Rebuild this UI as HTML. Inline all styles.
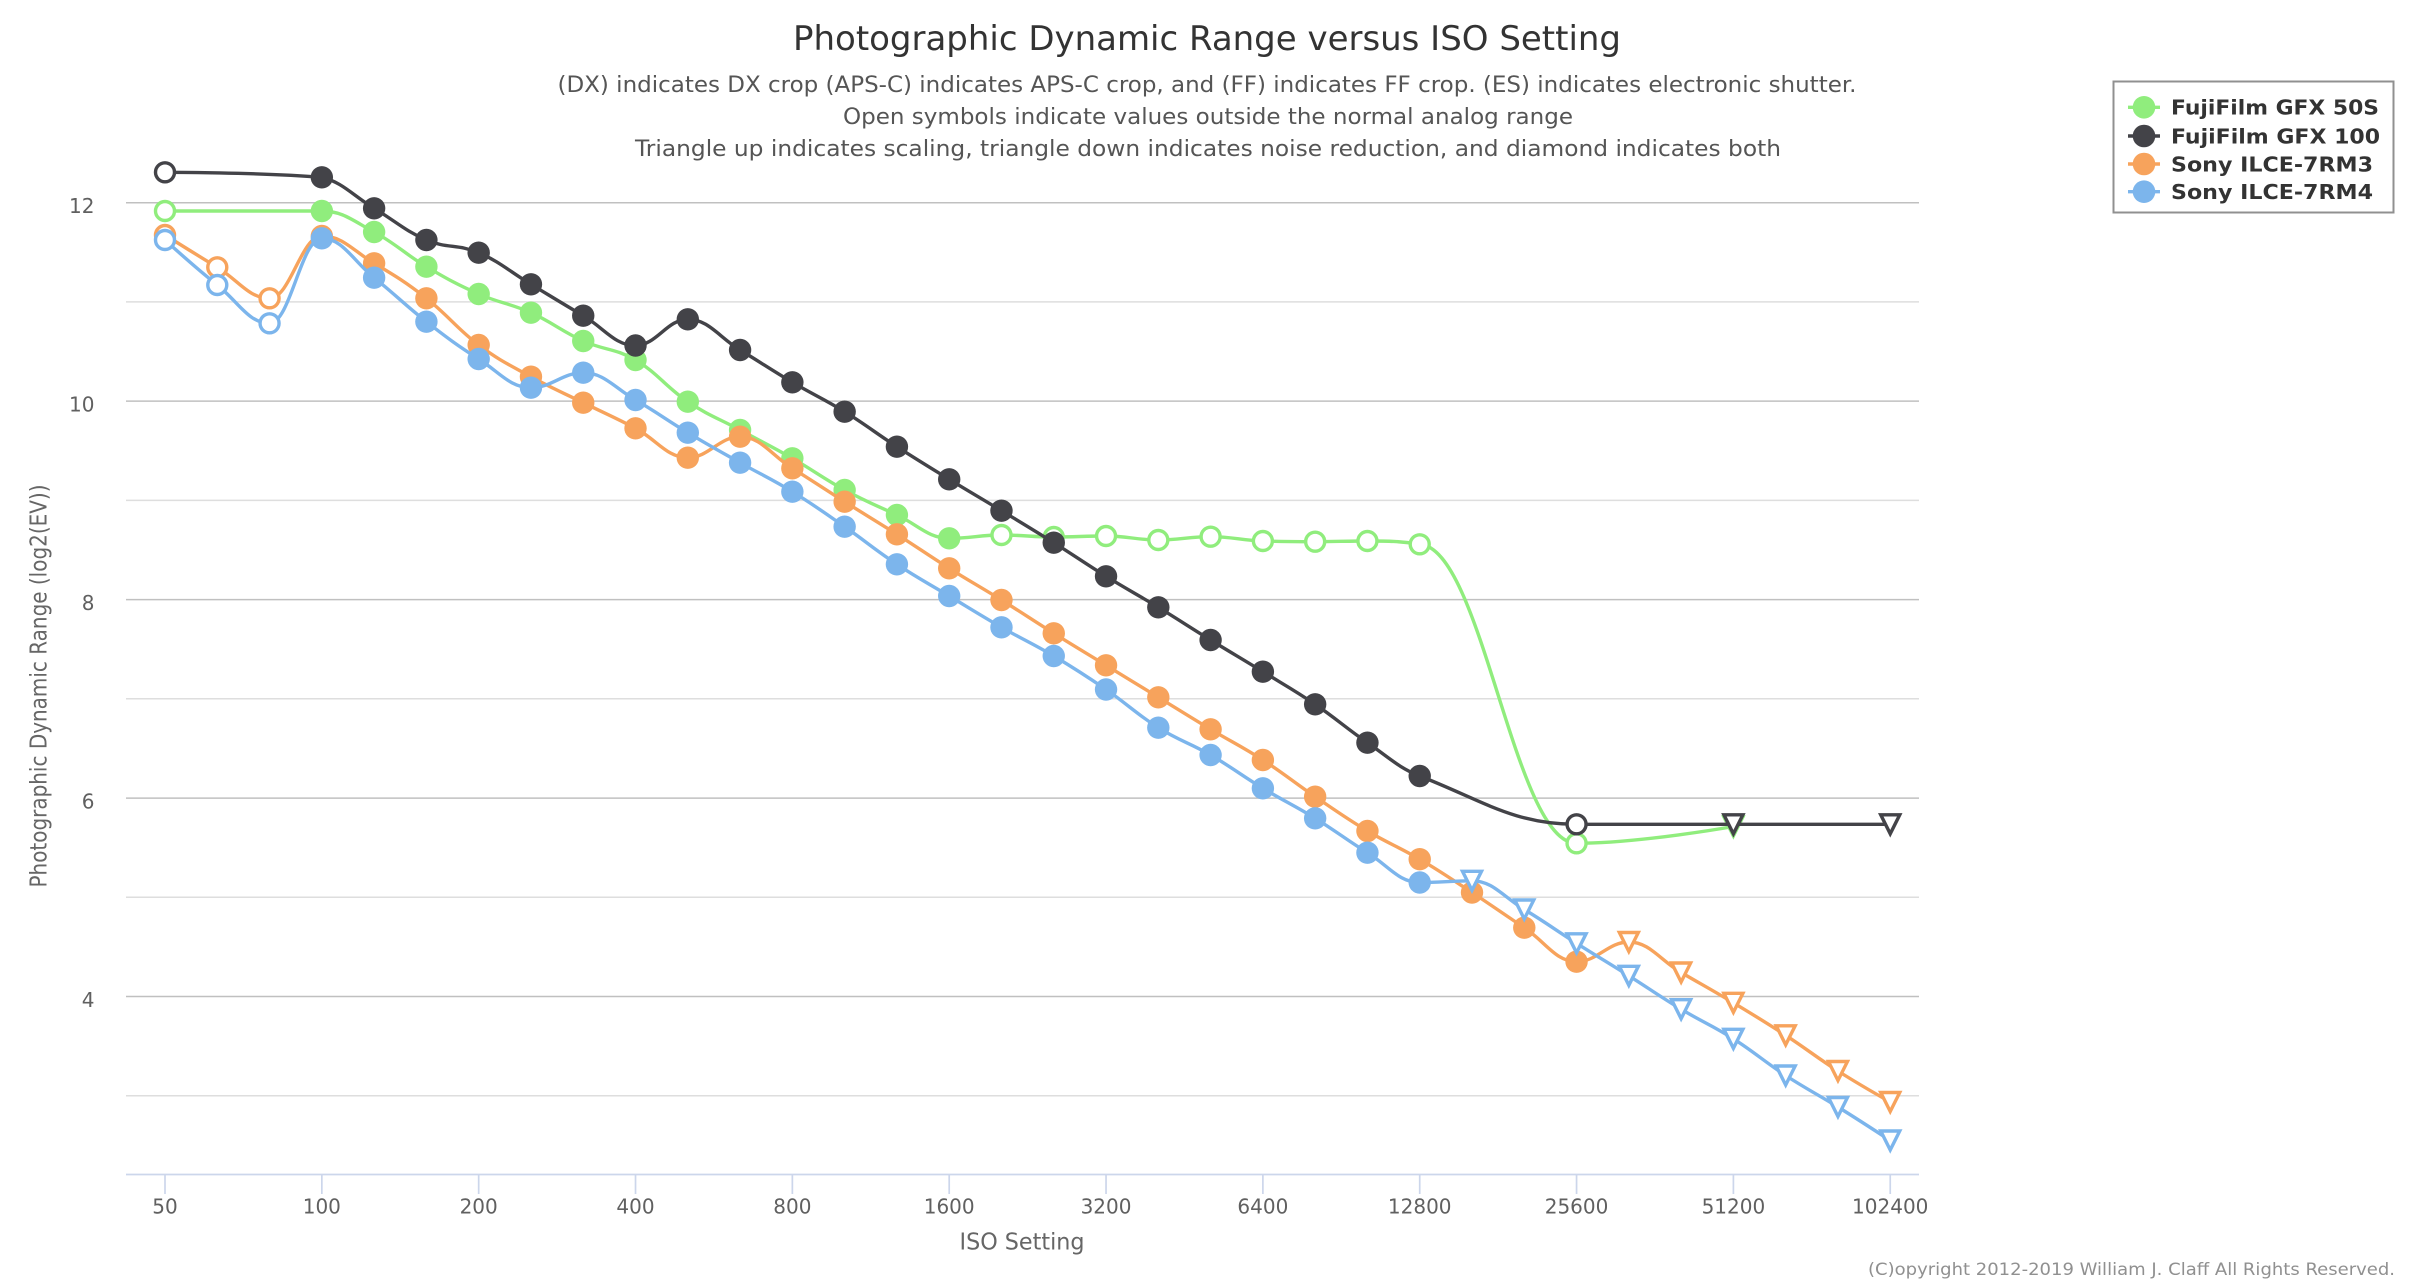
<!DOCTYPE html>
<html><head><meta charset="utf-8"><style>
html,body{margin:0;padding:0;background:#fff;}
svg{display:block;}
text{font-family:"DejaVu Sans","Liberation Sans",sans-serif;}
</style></head><body>
<svg id="c" width="2416" height="1284" viewBox="0 0 2416 1284" xmlns="http://www.w3.org/2000/svg">
<rect width="2416" height="1284" fill="#fff"/>
<!-- gridlines -->
<g stroke-width="1.5" fill="none">
<line x1="126" x2="1919" y1="202.7" y2="202.7" stroke="#c0c0c0"/>
<line x1="126" x2="1919" y1="301.9" y2="301.9" stroke="#dedede"/>
<line x1="126" x2="1919" y1="401.1" y2="401.1" stroke="#c0c0c0"/>
<line x1="126" x2="1919" y1="500.4" y2="500.4" stroke="#dedede"/>
<line x1="126" x2="1919" y1="599.6" y2="599.6" stroke="#c0c0c0"/>
<line x1="126" x2="1919" y1="698.8" y2="698.8" stroke="#dedede"/>
<line x1="126" x2="1919" y1="798.1" y2="798.1" stroke="#c0c0c0"/>
<line x1="126" x2="1919" y1="897.3" y2="897.3" stroke="#dedede"/>
<line x1="126" x2="1919" y1="996.5" y2="996.5" stroke="#c0c0c0"/>
<line x1="126" x2="1919" y1="1095.8" y2="1095.8" stroke="#dedede"/>
</g>
<!-- x axis -->
<g stroke="#ccd6eb" stroke-width="1.7">
<line x1="126" x2="1919" y1="1174.5" y2="1174.5"/>
<line x1="165" x2="165" y1="1175" y2="1194"/>
<line x1="321.84" x2="321.84" y1="1175" y2="1194"/>
<line x1="478.68" x2="478.68" y1="1175" y2="1194"/>
<line x1="635.52" x2="635.52" y1="1175" y2="1194"/>
<line x1="792.36" x2="792.36" y1="1175" y2="1194"/>
<line x1="949.2" x2="949.2" y1="1175" y2="1194"/>
<line x1="1106.04" x2="1106.04" y1="1175" y2="1194"/>
<line x1="1262.88" x2="1262.88" y1="1175" y2="1194"/>
<line x1="1419.72" x2="1419.72" y1="1175" y2="1194"/>
<line x1="1576.56" x2="1576.56" y1="1175" y2="1194"/>
<line x1="1733.4" x2="1733.4" y1="1175" y2="1194"/>
<line x1="1890.24" x2="1890.24" y1="1175" y2="1194"/>
</g>
<!-- x labels -->
<g font-size="20" fill="#606060" text-anchor="middle">
<text x="165" y="1213.5">50</text>
<text x="321.84" y="1213.5">100</text>
<text x="478.68" y="1213.5">200</text>
<text x="635.52" y="1213.5">400</text>
<text x="792.36" y="1213.5">800</text>
<text x="949.2" y="1213.5">1600</text>
<text x="1106.04" y="1213.5">3200</text>
<text x="1262.88" y="1213.5">6400</text>
<text x="1419.72" y="1213.5">12800</text>
<text x="1576.56" y="1213.5">25600</text>
<text x="1733.4" y="1213.5">51200</text>
<text x="1890.24" y="1213.5">102400</text>
</g>
<!-- y labels -->
<g font-size="20" fill="#606060" text-anchor="end">
<text x="94.5" y="213">12</text>
<text x="94.5" y="411.4">10</text>
<text x="94.5" y="609.9">8</text>
<text x="94.5" y="808.4">6</text>
<text x="94.5" y="1006.8">4</text>
</g>
<!-- titles -->
<text x="1207" y="50" font-size="34" fill="#333333" text-anchor="middle" textLength="828" lengthAdjust="spacingAndGlyphs">Photographic Dynamic Range versus ISO Setting</text>
<g font-size="22" fill="#555555" text-anchor="middle">
<text x="1207" y="92" textLength="1299" lengthAdjust="spacingAndGlyphs">(DX) indicates DX crop (APS-C) indicates APS-C crop, and (FF) indicates FF crop. (ES) indicates electronic shutter.</text>
<text x="1208" y="124" textLength="730" lengthAdjust="spacingAndGlyphs">Open symbols indicate values outside the normal analog range</text>
<text x="1208" y="156" textLength="1146" lengthAdjust="spacingAndGlyphs">Triangle up indicates scaling, triangle down indicates noise reduction, and diamond indicates both</text>
</g>
<text x="1022" y="1249.5" font-size="23" fill="#666666" text-anchor="middle" textLength="125" lengthAdjust="spacingAndGlyphs">ISO Setting</text>
<text transform="translate(46.7,686) rotate(-90)" x="0" y="0" font-size="23" fill="#666666" text-anchor="middle" textLength="403" lengthAdjust="spacingAndGlyphs">Photographic Dynamic Range (log2(EV))</text>
<text x="2395" y="1275" font-size="17" fill="#909090" text-anchor="end" textLength="527" lengthAdjust="spacingAndGlyphs">(C)opyright 2012-2019 William J. Claff All Rights Reserved.</text>
<!-- series -->
<g id="plot"></g>
<!-- legend -->
<rect x="2113.5" y="81.5" width="280" height="131" fill="#ffffff" stroke="#909090" stroke-width="2"/>
<g stroke-width="3.4">
<line x1="2128" x2="2160" y1="107.3" y2="107.3" stroke="#90ed7d"/>
<circle cx="2144" cy="107.3" r="11.3" fill="#90ed7d" stroke="none"/>
<line x1="2128" x2="2160" y1="136" y2="136" stroke="#434348"/>
<circle cx="2144" cy="136" r="11.3" fill="#434348" stroke="none"/>
<line x1="2128" x2="2160" y1="164" y2="164" stroke="#f7a35c"/>
<circle cx="2144" cy="164" r="11.3" fill="#f7a35c" stroke="none"/>
<line x1="2128" x2="2160" y1="191.7" y2="191.7" stroke="#7cb5ec"/>
<circle cx="2144" cy="191.7" r="11.3" fill="#7cb5ec" stroke="none"/>
</g>
<g font-size="20" font-weight="bold" fill="#333333">
<text x="2171" y="114.6" textLength="208" lengthAdjust="spacingAndGlyphs">FujiFilm GFX 50S</text>
<text x="2171" y="143.3" textLength="209" lengthAdjust="spacingAndGlyphs">FujiFilm GFX 100</text>
<text x="2171" y="171.3" textLength="202" lengthAdjust="spacingAndGlyphs">Sony ILCE-7RM3</text>
<text x="2171" y="199" textLength="202" lengthAdjust="spacingAndGlyphs">Sony ILCE-7RM4</text>
</g>
</svg>
<script>
(function(){
var X=function(i){return 165+52.28*i;};
var S=[
{c:'#90ed7d',d:[[0,211,1],[3,211,0],[4,232,0],[5,266.7,0],[6,294,0],[7,312.7,0],[8,341,0],[9,360,0],[10,401.7,0],[11,430,0],[12,458.3,0],[13,490,0],[14,515,0],[15,538.3,0],[16,535,1],[17,537,1],[18,536,1],[19,540,1],[20,536.7,1],[21,541,1],[22,541.7,1],[23,541,1],[24,544.3,1],[27,843.3,1],[30,826.5,2]]},
{c:'#434348',d:[[0,172.3,1],[3,177.3,0],[4,208.3,0],[5,240,0],[6,252.7,0],[7,284.3,0],[8,315.7,0],[9,345.5,0],[10,319.3,0],[11,350,0],[12,382.3,0],[13,411.7,0],[14,446.7,0],[15,479.3,0],[16,510.7,0],[17,542.7,0],[18,576.3,0],[19,607.3,0],[20,640,0],[21,671.7,0],[22,704.3,0],[23,742.7,0],[24,776,0],[27,824.3,1],[30,824.3,2],[33,824.3,2]]},
{c:'#f7a35c',d:[[0,235,1],[1,267.3,1],[2,298.3,1],[3,236,0],[4,263.3,0],[5,298.3,0],[6,345,0],[7,376.7,0],[8,402.7,0],[9,428.3,0],[10,457.7,0],[11,436.7,0],[12,468.3,0],[13,501.7,0],[14,534.3,0],[15,568.3,0],[16,600,0],[17,633.3,0],[18,665.3,0],[19,697.3,0],[20,729.3,0],[21,760,0],[22,796.7,0],[23,831,0],[24,859.2,0],[25,892.5,0],[26,927.7,0],[27,961.7,0],[28,942,2],[29,972.5,2],[30,1002.8,2],[31,1035.3,2],[32,1071,2],[33,1102,2]]},
{c:'#7cb5ec',d:[[0,240,1],[1,285,1],[2,323.3,1],[3,238.3,0],[4,277.7,0],[5,321.7,0],[6,359,0],[7,387.7,0],[8,372.7,0],[9,400,0],[10,432.7,0],[11,462.7,0],[12,491.7,0],[13,526.7,0],[14,564.3,0],[15,596,0],[16,627.3,0],[17,656,0],[18,689.5,0],[19,727.7,0],[20,755,0],[21,788.3,0],[22,818.3,0],[23,852.7,0],[24,882.5,0],[25,880.8,2],[26,909.5,2],[27,943.3,2],[28,975.8,2],[29,1009.2,2],[30,1038.8,2],[31,1075.5,2],[32,1107,2],[33,1140.5,2]]}
];
function spline(pts){
  var d='M'+pts[0][0].toFixed(2)+' '+pts[0][1].toFixed(2);
  var prev=null;
  for(var k=1;k<pts.length;k++){
    var p=pts[k],last=pts[k-1],next=pts[k+1];
    var lcx,lcy,rcx,rcy;
    if(next){
      var s=1.5,den=2.5;
      lcx=(s*p[0]+last[0])/den; lcy=(s*p[1]+last[1])/den;
      rcx=(s*p[0]+next[0])/den; rcy=(s*p[1]+next[1])/den;
      var corr=0;
      if(rcx!==lcx){corr=((rcy-lcy)*(rcx-p[0]))/(rcx-lcx)+p[1]-rcy;}
      lcy+=corr; rcy+=corr;
      if(lcy>last[1]&&lcy>p[1]){lcy=Math.max(last[1],p[1]);rcy=2*p[1]-lcy;}
      else if(lcy<last[1]&&lcy<p[1]){lcy=Math.min(last[1],p[1]);rcy=2*p[1]-lcy;}
      if(rcy>next[1]&&rcy>p[1]){rcy=Math.max(next[1],p[1]);lcy=2*p[1]-rcy;}
      else if(rcy<next[1]&&rcy<p[1]){rcy=Math.min(next[1],p[1]);lcy=2*p[1]-rcy;}
    } else {lcx=p[0];lcy=p[1];}
    var c1=prev||last;
    d+=' C'+c1[0].toFixed(2)+' '+c1[1].toFixed(2)+' '+lcx.toFixed(2)+' '+lcy.toFixed(2)+' '+p[0].toFixed(2)+' '+p[1].toFixed(2);
    prev=next?[rcx,rcy]:null;
  }
  return d;
}
var ns='http://www.w3.org/2000/svg',g=document.getElementById('plot');
function el(n,a){var e=document.createElementNS(ns,n);for(var k in a)e.setAttribute(k,a[k]);g.appendChild(e);return e;}
S.forEach(function(s){
  var pts=s.d.map(function(p){return [X(p[0]),p[1]];});
  el('path',{d:spline(pts),fill:'none',stroke:s.c,'stroke-width':'3.4','stroke-linejoin':'round','stroke-linecap':'round'});
  s.d.forEach(function(p){
    var x=X(p[0]),y=p[1];
    if(p[2]===0){el('circle',{cx:x,cy:y,r:'11.2',fill:s.c});}
    else if(p[2]===1){el('circle',{cx:x,cy:y,r:'9.5',fill:'#ffffff',stroke:s.c,'stroke-width':'3.4'});}
    else {var r=9.5;el('path',{d:'M'+(x-r)+' '+(y-r)+' L'+(x+r)+' '+(y-r)+' L'+x+' '+(y+r)+' Z',fill:'#ffffff',stroke:s.c,'stroke-width':'3.4','stroke-linejoin':'miter'});}
  });
});
})();
</script>
</body></html>
